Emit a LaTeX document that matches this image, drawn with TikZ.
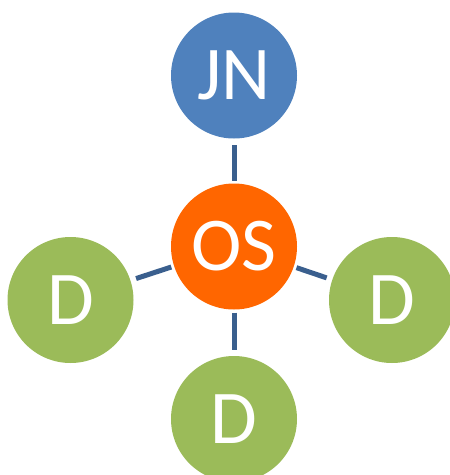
\documentclass[tikz,border=0pt]{standalone}
\usepackage{fontspec}
\setmainfont{Carlito}
\definecolor{jnblue}{HTML}{4F81BD}
\definecolor{osorange}{HTML}{FF6600}
\definecolor{dgreen}{HTML}{9BBB59}
\definecolor{linkblue}{HTML}{3A5F8E}
\begin{document}
\begin{tikzpicture}[x=1pt,y=-1pt,
  ball/.style={circle,minimum size=126pt,inner sep=0pt,outer sep=0pt,text=white,font=\fontsize{76}{76}\selectfont},
  link/.style={draw=linkblue,line width=5pt,shorten <=3pt,shorten >=6pt}]
\useasboundingbox (0,0) rectangle (450,475);
\node[ball,fill=jnblue] (jn) at (234,75.5) {JN};
\node[ball,fill=osorange] (os) at (234,246.5) {OS};
\node[ball,fill=dgreen] (dl) at (70.5,300) {D};
\node[ball,fill=dgreen] (dr) at (392,300) {D};
\node[ball,fill=dgreen] (db) at (234,419) {D};
\draw[link] (os) -- (jn);
\draw[link] (os) -- (dl);
\draw[link] (os) -- (dr);
\draw[link] (os) -- (db);
\end{tikzpicture}
\end{document}
